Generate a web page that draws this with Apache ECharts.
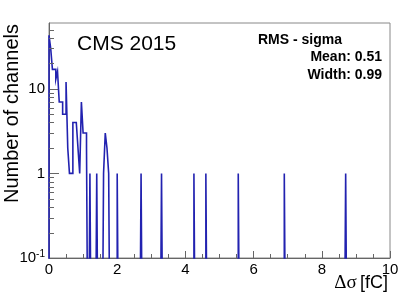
<!DOCTYPE html>
<html><head><meta charset="utf-8">
<script src="https://cdn.jsdelivr.net/npm/echarts@6/dist/echarts.min.js"></script>
<style>html,body{margin:0;padding:0;background:#fff}#c{width:407px;height:294px}</style>
</head><body><div id="c"></div>
<script>
// Histogram: 200 bins of width 0.05 on [0,10]; only non-empty bins listed
const binWidth = 0.05;
const nBins = 200;
const binLow   = [0.00,0.05,0.10,0.15,0.20,0.25,0.30,0.35,0.40,0.45,0.50,0.55,0.60,0.65,0.70,0.75,0.80,0.85,0.90,0.95,1.00,1.05,1.10,1.20,1.40,1.60,1.65,1.70,1.75,2.00,2.70,3.30,4.25,4.60,5.55,6.90,8.70];
const binCount = [43,  30,  17,  17,  13,  16,  7,   7,   5,   5,   12,  2,   1,   1,   4,   4,   4,   2,   1,   7,   3,   3,   2,   1,   1,   1,   3,   2,   1,   1,   1,   1,   1,   1,   1,   1,   1];
const xTicks = [0,2,4,6,8,10];
const yMajorTicks = [0.1,1,10];
const yMinorTicks = [0.2,0.3,0.4,0.5,0.6,0.7,0.8,0.9,2,3,4,5,6,7,8,9,20,30,40,50];
const statsTitle = 'RMS - sigma';
const statsLines = ['Mean: 0.51','Width: 0.99'];

const counts = new Array(nBins).fill(0);
binLow.forEach((x,k)=>{ counts[Math.round(x/binWidth)] = binCount[k]; });
const FLOOR = 1e-3; // empty bins drawn below the visible range (clipped)
// histogram outline: each bin contributes its left and right edge at its count
const outline = [[0, FLOOR]];
counts.forEach((c,i)=>{
  const v = c>0?c:FLOOR;
  outline.push([i*binWidth, v]);
  outline.push([(i+1)*binWidth, v]);
});
outline.push([nBins*binWidth, FLOOR]);

const axisCol = '#666';
const SANS = 'Liberation Sans, Arial, Helvetica, sans-serif';
const chart = echarts.init(document.getElementById('c'), null, {renderer:'canvas'});
chart.setOption({
  animation:false,
  backgroundColor:'#fff',
  grid:{left:49,right:17,top:23,bottom:36,show:true,borderColor:'#888',borderWidth:1,backgroundColor:'transparent'},
  xAxis:{type:'value',min:xTicks[0],max:xTicks[xTicks.length-1],interval:2,
    axisLine:{onZero:false,lineStyle:{color:axisCol,width:1}},
    axisTick:{inside:true,length:7,lineStyle:{color:axisCol}},
    minorTick:{show:true,splitNumber:4,length:4,lineStyle:{color:axisCol}},
    splitLine:{show:false},minorSplitLine:{show:false},
    axisLabel:{color:'#000',fontSize:15,fontFamily:SANS,margin:4}},
  yAxis:{type:'log',logBase:10,min:0.1,max:60,
    axisLine:{lineStyle:{color:axisCol,width:1}},
    axisTick:{inside:true,length:10,lineStyle:{color:axisCol}},
    splitLine:{show:false},
    axisLabel:{color:'#000',fontSize:15,fontFamily:SANS,margin:4,showMaxLabel:false,
      formatter:function(v){
        if (Math.abs(v-yMajorTicks[0])<1e-9) return '{n|10}{s|-1}';
        return '{n|'+Math.round(v)+'}';
      },
      rich:{n:{fontSize:15,fontFamily:SANS,color:'#000',lineHeight:18},
            s:{fontSize:10,fontFamily:SANS,color:'#000',verticalAlign:'top',lineHeight:18}}}},
  series:[
    {type:'line',data:outline,symbol:'none',clip:true,
     lineStyle:{color:'#2222b0',width:1.6,join:'miter'},z:3},
    {type:'custom',data:yMinorTicks.map(v=>[0,v]),encode:{x:0,y:1},silent:true,clip:false,z:4,
     renderItem:function(params,api){
       const p = api.coord([0, api.value(1)]);
       const y = Math.round(p[1])+0.5;
       return {type:'line',shape:{x1:p[0],y1:y,x2:p[0]+5,y2:y},style:{stroke:axisCol,lineWidth:1}};
     }}
  ],
  graphic:[
    {type:'text',left:77,top:34,style:{text:'CMS 2015',fontSize:21,fontFamily:SANS,fill:'#000'}},
    {type:'text',x:300,y:40,style:{text:statsTitle,fontSize:14,fontWeight:'bold',fontFamily:SANS,fill:'#000',align:'center',verticalAlign:'middle'}},
    {type:'text',x:382,y:57,style:{text:statsLines[0],fontSize:14,fontWeight:'bold',fontFamily:SANS,fill:'#000',align:'right',verticalAlign:'middle'}},
    {type:'text',x:382,y:75,style:{text:statsLines[1],fontSize:14,fontWeight:'bold',fontFamily:SANS,fill:'#000',align:'right',verticalAlign:'middle'}},
    {type:'text',x:12,y:24,rotation:Math.PI/2,style:{text:'Number of channels',fontSize:20,fontFamily:SANS,fill:'#000',align:'right',verticalAlign:'middle'}},
    {type:'text',x:388,y:283,style:{text:'{g|Δσ} {t|[fC]}',align:'right',verticalAlign:'middle',
      rich:{g:{fontSize:19,fontFamily:'Liberation Serif, Times New Roman, serif',fill:'#000'},
            t:{fontSize:18,fontFamily:SANS,fill:'#000'}}}}
  ]
});
</script></body></html>
